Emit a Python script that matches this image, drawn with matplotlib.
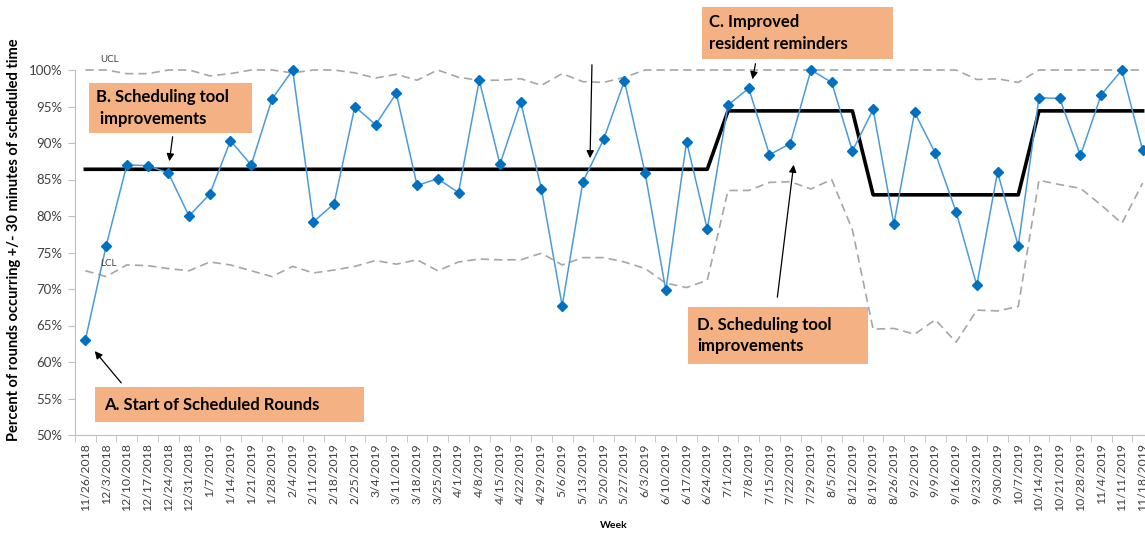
import matplotlib
matplotlib.use("Agg")
import matplotlib.pyplot as plt
from matplotlib.patches import Rectangle, FancyArrowPatch

plt.rcParams['font.family'] = ['Lato', 'DejaVu Sans']

weeks = ['11/26/2018', '12/3/2018', '12/10/2018', '12/17/2018', '12/24/2018', '12/31/2018',
         '1/7/2019', '1/14/2019', '1/21/2019', '1/28/2019', '2/4/2019', '2/11/2019', '2/18/2019',
         '2/25/2019', '3/4/2019', '3/11/2019', '3/18/2019', '3/25/2019', '4/1/2019', '4/8/2019',
         '4/15/2019', '4/22/2019', '4/29/2019', '5/6/2019', '5/13/2019', '5/20/2019', '5/27/2019',
         '6/3/2019', '6/10/2019', '6/17/2019', '6/24/2019', '7/1/2019', '7/8/2019', '7/15/2019',
         '7/22/2019', '7/29/2019', '8/5/2019', '8/12/2019', '8/19/2019', '8/26/2019', '9/2/2019',
         '9/9/2019', '9/16/2019', '9/23/2019', '9/30/2019', '10/7/2019', '10/14/2019',
         '10/21/2019', '10/28/2019', '11/4/2019', '11/11/2019', '11/18/2019']

# percent of rounds on time
rate = [63.0, 75.9, 87.0, 86.9, 85.9, 80.0, 83.0, 90.3, 87.0, 96.0,
        100.0, 79.2, 81.7, 95.0, 92.5, 96.8, 84.2, 85.1, 83.2, 98.6,
        87.1, 95.6, 83.7, 67.7, 84.7, 90.5, 98.5, 85.9, 69.8, 90.2,
        78.2, 95.2, 97.5, 88.4, 89.9, 100.0, 98.3, 88.9, 94.6, 78.9,
        94.2, 88.6, 80.6, 70.5, 86.0, 75.9, 96.2, 96.1, 88.3, 96.6,
        100.0, 89.0]

center = [86.4] * 31 + [94.4] * 7 + [82.9] * 8 + [94.4] * 6

ucl = [100, 100, 99.5, 99.5, 100, 100, 99.2, 99.5, 100, 100,
       99.6, 100, 100, 99.6, 98.9, 99.4, 98.6, 100, 99.0, 98.6,
       98.6, 98.8, 97.9, 99.5, 98.4, 98.3, 99.0, 100, 100, 100,
       100, 100, 100, 100, 100, 100, 100, 100, 100, 100,
       100, 100, 100, 98.7, 98.8, 98.3, 100, 100, 100, 100,
       100, 100]

lcl = [72.5, 71.7, 73.3, 73.2, 72.8, 72.5, 73.7, 73.3, 72.5, 71.7,
       73.1, 72.2, 72.6, 73.1, 73.9, 73.4, 74.0, 72.5, 73.7, 74.1,
       74.0, 74.0, 74.9, 73.3, 74.3, 74.3, 73.7, 72.8, 70.8, 70.2,
       71.2, 83.5, 83.5, 84.6, 84.7, 83.7, 85.0, 78.1, 64.5, 64.6,
       63.8, 65.8, 62.7, 67.1, 67.0, 67.6, 84.9, 84.3, 83.8, 81.5,
       79.0, 84.5]

W, H = 1145, 535
fig = plt.figure(figsize=(W / 100, H / 100), dpi=100)
ax = fig.add_axes([75 / W, 100 / H, 1078 / W, 365 / H])

x = list(range(len(weeks)))
ax.plot(x, ucl, color='#A6A6A6', lw=1.2, ls=(0, (5, 3)), clip_on=False)
ax.plot(x, lcl, color='#A6A6A6', lw=1.2, ls=(0, (5, 3)), clip_on=False)
ax.plot(x, center, color='black', lw=2.6, clip_on=False)
ax.plot(x, rate, color='#4A9BDB', lw=1.1, marker='D', ms=5.5,
        mfc='#0070C0', mec='#0070C0', clip_on=False, zorder=5)

ax.set_xlim(-0.5, len(weeks) - 0.5)
ax.set_ylim(50, 100)
ax.set_yticks(range(50, 101, 5))
ax.set_yticklabels([f'{v}%' for v in range(50, 101, 5)])
ax.set_xticks(x)
ax.set_xticklabels(weeks, rotation=90)
ax.set_xticks([i - 0.5 for i in range(len(weeks) + 1)], minor=True)
ax.tick_params(axis='x', which='major', length=0, pad=6, labelsize=8.8, labelcolor='#404040')
ax.tick_params(axis='x', which='minor', length=5, color='#BFBFBF', direction='out')
ax.tick_params(axis='y', length=5, color='#BFBFBF', pad=4, labelsize=9.5, labelcolor='#404040')

for s in ['top', 'right']:
    ax.spines[s].set_visible(False)
for s in ['left', 'bottom']:
    ax.spines[s].set_color('#BFBFBF')

fig.text(14 / W, 1 - 240 / H, 'Percent of rounds occurring +/- 30 minutes of scheduled time',
         rotation=90, ha='center', va='center', fontsize=10.5, fontweight='bold', color='black')
fig.text(614 / W, 1 - 526 / H, 'Week', ha='center', va='center', fontsize=7.5,
         fontweight='bold', color='black')

fig.text(110 / W, 1 - 59 / H, 'UCL', ha='center', va='center', fontsize=7, color='#404040')
fig.text(108 / W, 1 - 264 / H, 'LCL', ha='center', va='center', fontsize=7, color='#404040')


def box(x0, y0, x1, y1, lines, tx):
    fig.add_artist(Rectangle((x0 / W, 1 - y1 / H), (x1 - x0) / W, (y1 - y0) / H,
                             transform=fig.transFigure, facecolor='#F4B183',
                             edgecolor='none', zorder=6))
    fig.text(tx / W, 1 - (y0 + y1) / 2 / H, lines, ha='left', va='center',
             fontsize=12, fontweight='bold', color='black', linespacing=1.4, zorder=7)


def arrow(x0, y0, x1, y1):
    fig.add_artist(FancyArrowPatch((x0 / W, 1 - y0 / H), (x1 / W, 1 - y1 / H),
                                   transform=fig.transFigure, arrowstyle='-|>',
                                   mutation_scale=11, lw=0.9, color='black', zorder=8))


box(95, 387, 364, 422, 'A. Start of Scheduled Rounds', 104)
box(89, 83, 252, 133, 'B. Scheduling tool\n improvements', 96)
box(702, 7, 893, 59, 'C. Improved\nresident reminders', 709)
box(688, 307, 868, 364, 'D. Scheduling tool\nimprovements', 697)

arrow(123, 385, 93, 349)
arrow(173, 134, 169, 164)
arrow(756, 61, 752, 82)
arrow(777, 300, 794, 162)
arrow(592, 62, 590, 161)

fig.savefig('out.png', dpi=100)
